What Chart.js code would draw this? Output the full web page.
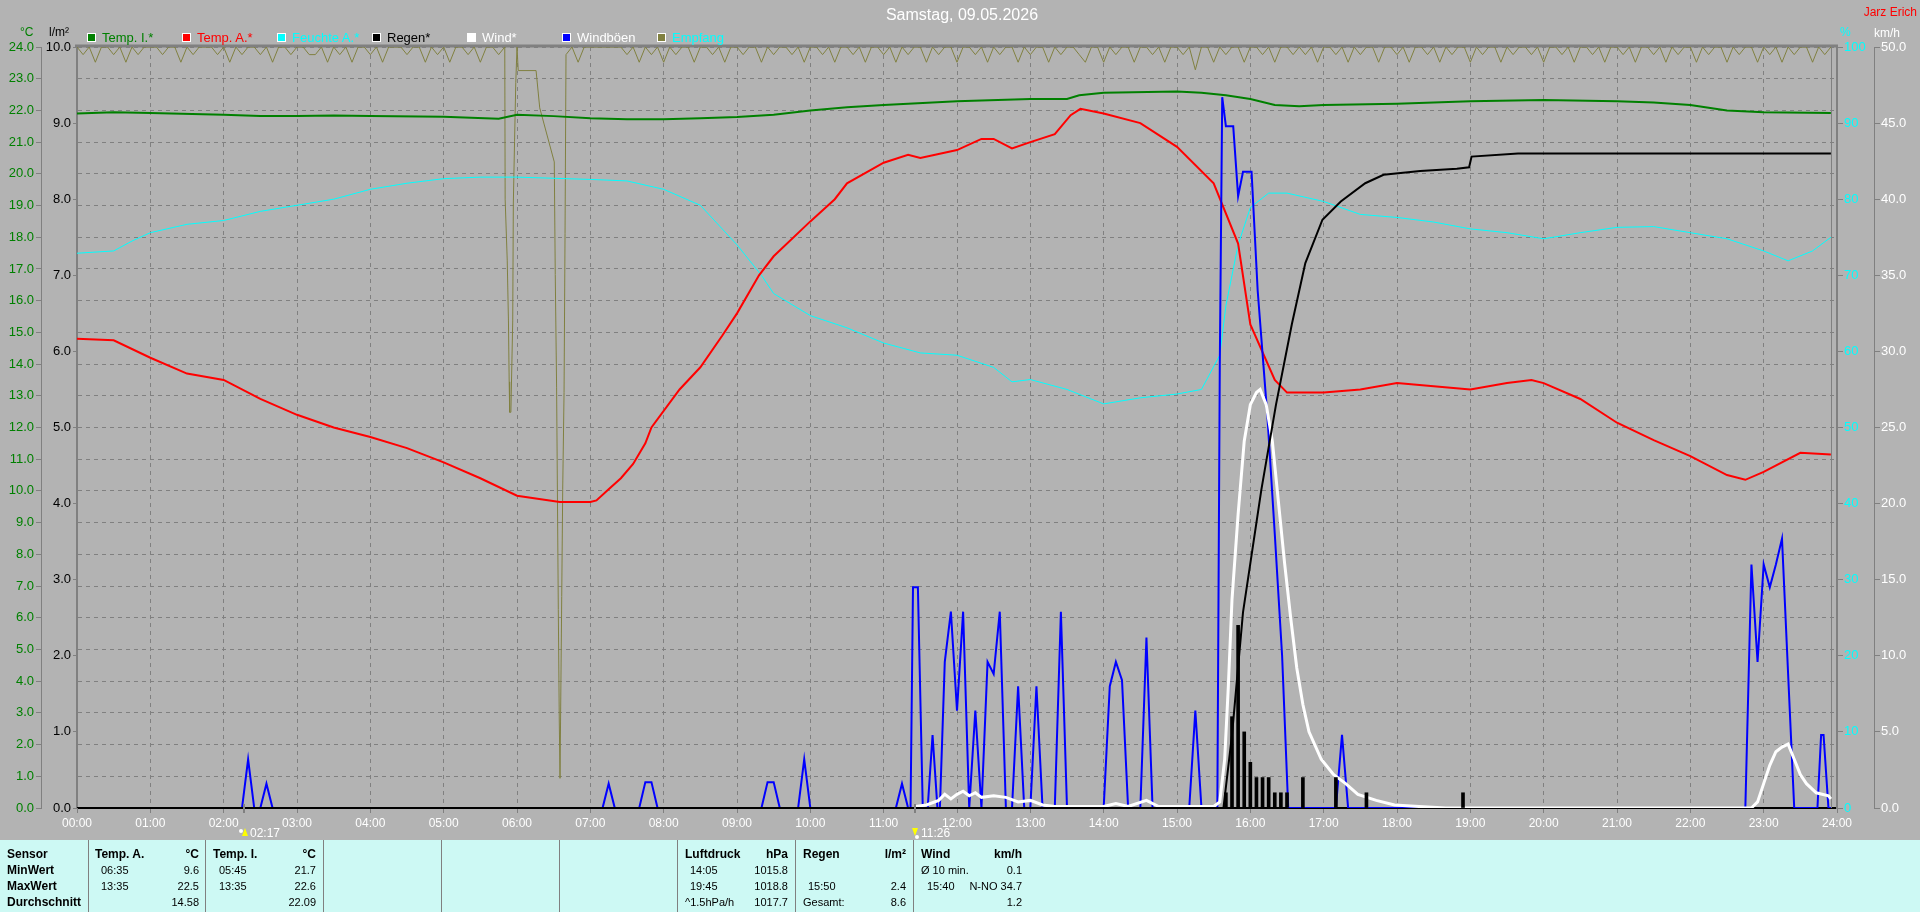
<!DOCTYPE html>
<html>
<head>
<meta charset="utf-8">
<script src="https://cdn.jsdelivr.net/npm/chart.js@4.4.1/dist/chart.umd.min.js"></script>
<style>
  body { margin: 0; width: 1920px; height: 912px; overflow: hidden; background: #b3b3b3; position: relative;
         font-family: 'Liberation Sans Narrow', 'Liberation Sans', Arial, sans-serif; }
  #wrap { position: absolute; left: 0; top: 0; width: 1920px; height: 840px; }
  .t { position: absolute; white-space: nowrap; line-height: 14px; font-size: 13px; }
  #table { position: absolute; left: 0; top: 840px; width: 1920px; height: 72px; background: #cdf9f4; }
  .sep { position: absolute; top: 0; width: 1px; height: 72px; background: #808080; }
  .c { position: absolute; white-space: nowrap; font-family: 'Liberation Sans', Arial, sans-serif; font-size: 11px; line-height: 12px; color: #000; }
  .b { font-weight: bold; font-size: 12px; }
  .r { text-align: right; }
</style>
</head>
<body>
<div id="wrap"><canvas id="chart" width="1920" height="840"></canvas></div>

<div class="t" style="left:0;width:1924px;text-align:center;top:6px;font-size:16px;line-height:18px;color:#fff">Samstag, 09.05.2026</div>
<div class="t" style="right:3px;top:5px;color:#f00;font-size:12px">Jarz Erich</div>
<div class="t" style="left:20px;top:25px;color:#008000;font-size:12px">°C</div>
<div class="t" style="left:49px;top:25px;color:#000;font-size:12px">l/m²</div>
<div class="t" style="left:1840px;top:25px;color:#0ff;font-size:12px">%</div>
<div class="t" style="left:1874px;top:26px;color:#fff;font-size:12px">km/h</div>
<div id="legend"></div>

<!-- markers under the time axis -->
<div style="position:absolute;left:243px;top:804px;width:2px;height:9px;background:#808080"></div>
<div style="position:absolute;left:914px;top:804px;width:2px;height:9px;background:#808080"></div>
<div style="position:absolute;left:239px;top:829px;width:4px;height:4px;border-radius:2px;background:#fff"></div>
<div style="position:absolute;left:242px;top:828px;width:0;height:0;border-left:3px solid transparent;border-right:3px solid transparent;border-bottom:8px solid #ff0"></div>
<div class="t" style="left:250px;top:826px;color:#fff;font-size:12px">02:17</div>
<div style="position:absolute;left:912px;top:828px;width:0;height:0;border-left:3px solid transparent;border-right:3px solid transparent;border-top:8px solid #ff0"></div>
<div style="position:absolute;left:915px;top:835px;width:4px;height:4px;border-radius:2px;background:#fff"></div>
<div class="t" style="left:921px;top:826px;color:#fff;font-size:12px">11:26</div>

<div id="table">
  <div class="sep" style="left:88px"></div><div class="sep" style="left:205px"></div>
  <div class="sep" style="left:323px"></div><div class="sep" style="left:441px"></div>
  <div class="sep" style="left:559px"></div><div class="sep" style="left:677px"></div>
  <div class="sep" style="left:795px"></div><div class="sep" style="left:913px"></div>

  <div class="c b" style="left:7px;top:8px">Sensor</div>
  <div class="c b" style="left:7px;top:24px">MinWert</div>
  <div class="c b" style="left:7px;top:40px">MaxWert</div>
  <div class="c b" style="left:7px;top:56px">Durchschnitt</div>

  <div class="c b" style="left:95px;top:8px">Temp. A.</div>
  <div class="c b r" style="left:0;width:199px;top:8px">°C</div>
  <div class="c" style="left:101px;top:24px">06:35</div><div class="c r" style="left:0;width:199px;top:24px">9.6</div>
  <div class="c" style="left:101px;top:40px">13:35</div><div class="c r" style="left:0;width:199px;top:40px">22.5</div>
  <div class="c r" style="left:0;width:199px;top:56px">14.58</div>

  <div class="c b" style="left:213px;top:8px">Temp. I.</div>
  <div class="c b r" style="left:0;width:316px;top:8px">°C</div>
  <div class="c" style="left:219px;top:24px">05:45</div><div class="c r" style="left:0;width:316px;top:24px">21.7</div>
  <div class="c" style="left:219px;top:40px">13:35</div><div class="c r" style="left:0;width:316px;top:40px">22.6</div>
  <div class="c r" style="left:0;width:316px;top:56px">22.09</div>

  <div class="c b" style="left:685px;top:8px">Luftdruck</div>
  <div class="c b r" style="left:0;width:788px;top:8px">hPa</div>
  <div class="c" style="left:690px;top:24px">14:05</div><div class="c r" style="left:0;width:788px;top:24px">1015.8</div>
  <div class="c" style="left:690px;top:40px">19:45</div><div class="c r" style="left:0;width:788px;top:40px">1018.8</div>
  <div class="c" style="left:685px;top:56px">^1.5hPa/h</div><div class="c r" style="left:0;width:788px;top:56px">1017.7</div>

  <div class="c b" style="left:803px;top:8px">Regen</div>
  <div class="c b r" style="left:0;width:906px;top:8px">l/m²</div>
  <div class="c" style="left:808px;top:40px">15:50</div><div class="c r" style="left:0;width:906px;top:40px">2.4</div>
  <div class="c" style="left:803px;top:56px">Gesamt:</div><div class="c r" style="left:0;width:906px;top:56px">8.6</div>

  <div class="c b" style="left:921px;top:8px">Wind</div>
  <div class="c b r" style="left:0;width:1022px;top:8px">km/h</div>
  <div class="c" style="left:921px;top:24px">Ø 10 min.</div><div class="c r" style="left:0;width:1022px;top:24px">0.1</div>
  <div class="c" style="left:927px;top:40px">15:40</div><div class="c r" style="left:0;width:1022px;top:40px">N-NO 34.7</div>
  <div class="c r" style="left:0;width:1022px;top:56px">1.2</div>
</div>

<script>
// ---- data ----
const legendNames = ["Temp. I.*", "Temp. A.*", "Feuchte A.*", "Regen*", "Wind*", "Windböen", "Empfang"];
const legendBoxColors = ["#008000", "#ff0000", "#00ffff", "#000000", "#ffffff", "#0000ff", "#808040"];
const legendTextColors = ["#008000", "#ff0000", "#00ffff", "#000000", "#ffffff", "#ffffff", "#00ffff"];

const tempITimes = ["00:00","00:30","01:00","02:00","02:30","03:00","03:30","04:00","05:00","05:45","06:00","06:30","07:00","07:30","08:00","08:30","09:00","09:30","10:00","10:30","11:00","12:00","13:00","13:30","13:40","14:00","15:00","15:20","15:40","16:00","16:20","16:40","17:00","18:00","19:00","20:00","21:00","21:30","22:00","22:30","23:00","23:55"];
const tempIValues = [21.9,21.94,21.92,21.86,21.82,21.82,21.84,21.82,21.8,21.74,21.86,21.82,21.75,21.72,21.72,21.75,21.79,21.86,22.0,22.1,22.17,22.29,22.36,22.36,22.48,22.56,22.6,22.56,22.48,22.36,22.17,22.13,22.17,22.21,22.29,22.33,22.29,22.25,22.17,22.0,21.94,21.92];

const tempATimes = ["00:00","00:30","01:00","01:30","02:00","02:30","03:00","03:30","04:00","04:30","05:00","05:30","06:00","06:35","07:00","07:05","07:15","07:25","07:35","07:45","07:50","08:13","08:30","08:48","09:00","09:18","09:30","10:00","10:20","10:30","11:00","11:20","11:30","12:00","12:20","12:30","12:45","13:00","13:20","13:33","13:41","14:00","14:30","15:00","15:30","15:50","16:00","16:20","16:30","17:00","17:30","18:00","18:30","19:00","19:30","19:50","20:00","20:30","21:00","21:30","22:00","22:30","22:45","23:00","23:30","23:55"];
const tempAValues = [14.8,14.75,14.2,13.7,13.5,12.9,12.4,12.0,11.7,11.35,10.9,10.4,9.85,9.65,9.65,9.7,10.05,10.4,10.85,11.5,12.0,13.2,13.9,14.9,15.6,16.8,17.4,18.5,19.2,19.7,20.35,20.6,20.5,20.75,21.1,21.1,20.8,21.0,21.25,21.85,22.05,21.9,21.6,20.85,19.7,17.8,15.25,13.5,13.1,13.1,13.2,13.4,13.3,13.2,13.4,13.5,13.4,12.9,12.15,11.6,11.1,10.5,10.35,10.6,11.2,11.15];

const humTimes = ["00:00","00:30","00:45","01:00","01:30","02:00","02:30","03:00","03:30","04:00","04:30","05:00","05:30","06:00","07:00","07:30","08:00","08:30","09:00","09:20","09:30","10:00","10:30","11:00","11:30","12:00","12:30","12:45","13:00","13:30","14:00","14:30","15:00","15:20","15:35","15:40","15:50","16:00","16:15","16:30","17:00","17:30","18:00","18:30","19:00","19:30","20:00","20:30","21:00","21:30","22:00","22:30","23:00","23:20","23:40","23:55"];
const humValues = [72.9,73.2,74.5,75.6,76.7,77.2,78.4,79.2,80,81.3,82.1,82.7,82.9,82.9,82.6,82.4,81.3,79.2,74,70,67.6,64.7,63.1,61.1,59.8,59.5,57.9,56,56.3,55,53.1,53.9,54.4,55,59.5,66,74,78.9,80.8,80.8,79.7,78,77.6,77,76.1,75.6,74.8,75.6,76.3,76.4,75.6,74.8,73.2,71.9,73.2,75];

const rainTimes = ["00:00","15:38","15:45","15:54","16:09","16:21","16:34","16:45","16:59","17:14","17:34","17:49","18:19","18:49","18:59","19:01","19:39","23:55"];
const rainValues = [0,0,0.96,2.57,4.18,5.3,6.36,7.16,7.73,7.97,8.21,8.32,8.37,8.4,8.42,8.56,8.6,8.6];

const rainBarTimes = ["15:40","15:45","15:50","15:55","16:00","16:05","16:10","16:15","16:20","16:25","16:30","16:43","17:10","17:35","18:54"];
const rainBarValues = [0.2,1.2,2.4,1.0,0.6,0.4,0.4,0.4,0.2,0.2,0.2,0.4,0.4,0.2,0.2];

const windTimes = ["11:26","11:35","11:45","11:50","11:55","12:00","12:05","12:10","12:15","12:20","12:30","12:40","12:50","13:00","13:10","13:20","13:40","14:00","14:10","14:20","14:35","14:45","15:00","15:30","15:35","15:39","15:42","15:45","15:50","15:55","16:00","16:05","16:08","16:13","16:18","16:23","16:28","16:33","16:38","16:43","16:48","16:58","17:08","17:18","17:28","17:43","17:58","18:18","18:40","22:50","22:55","23:00","23:05","23:10","23:15","23:20","23:25","23:30","23:35","23:43","23:53","23:55"];
const windValues = [0.1,0.2,0.5,0.9,0.6,0.9,1.1,0.8,1.0,0.7,0.8,0.7,0.4,0.5,0.2,0.1,0.1,0.1,0.3,0.1,0.5,0.1,0.1,0.1,0.4,3.2,8,13.7,19.3,24.1,26.5,27.3,27.5,26.5,24.1,20.1,16.1,12.5,9.2,6.8,5,3.2,2.2,1.6,0.9,0.5,0.2,0.1,0,0,0.4,1.6,2.8,3.7,4,4.2,3.2,2.2,1.6,1.0,0.8,0.6];

const gustTimes = [
  "00:00","02:15","02:20","02:25","02:30","02:35","02:40",
  "07:10","07:15","07:20","07:40","07:45","07:50","07:55",
  "09:20","09:25","09:30","09:35","09:50","09:55","10:00",
  "11:10","11:15","11:20","11:22","11:24","11:28","11:32","11:36","11:40","11:44","11:46",
  "11:50","11:55","12:00","12:05","12:10","12:15","12:20","12:25","12:30","12:35",
  "12:40","12:45","12:50","12:55","13:00","13:05","13:10","13:20","13:25","13:30",
  "14:00","14:05","14:10","14:15","14:20","14:30","14:35","14:40",
  "15:10","15:15","15:20","15:33","15:35","15:37","15:40","15:46","15:50","15:54","16:01",
  "16:06","16:14","16:20","16:26","16:31",
  "17:10","17:15","17:20",
  "22:45","22:50","22:55","23:00","23:05","23:10","23:15","23:20","23:25",
  "23:44","23:47","23:49","23:53","23:55"
];
const gustValues = [
  0,0,3.2,0,0,1.6,0,
  0,1.6,0,0,1.7,1.7,0,
  0,1.7,1.7,0,0,3.2,0,
  0,1.6,0,0,14.5,14.5,0,0,4.8,0,0,
  9.6,12.9,6.4,12.9,0,6.4,0,9.6,8.8,12.9,
  0,0,8,0,0,8,0,0,12.9,0,
  0,8,9.6,8.4,0,0,11.2,0,
  0,6.4,0,0,29,46.7,44.8,44.8,40.2,41.8,41.8,
  34,25.7,18,10,0,
  0,4.8,0,
  0,16,9.6,16,14.5,16,17.7,8.8,0,
  0,4.8,4.8,0,0
];

// reception (%), one value every 5 minutes from 00:00 to 23:55
const empfangValues = [
  100,99,100,98,100,100,99,100,98,100,99,100,
  100,100,99,100,100,98,100,99,100,100,100,99,
  100,98,100,99,100,100,99,100,98,100,100,99,
  100,100,99,99,100,98,100,99,100,98,100,100,
  99,100,98,100,100,100,99,100,100,98,100,99,
  100,98,100,100,99,100,98,100,100,99,100,100,
  100,100,100,100,100,100,100,100,99,100,98,100,
  100,100,100,100,100,100,99,100,98,100,99,100,
  98,100,99,100,100,98,100,100,99,100,98,100,
  100,99,100,100,98,100,99,100,100,99,100,98,
  100,100,99,100,98,100,100,99,100,98,100,100,
  99,100,98,100,99,100,100,98,100,99,100,100,
  98,100,100,99,100,98,100,99,100,100,98,100,
  99,100,100,98,100,99,100,100,99,98,100,100,
  98,100,99,100,100,98,100,100,99,100,98,100,
  100,99,100,97,100,100,98,100,99,100,100,98,
  100,100,99,100,98,100,100,99,100,99,100,98,
  100,100,99,100,98,100,99,100,100,98,100,100,
  99,100,98,100,100,99,100,98,100,99,100,100,
  98,100,99,100,100,98,100,99,100,100,99,100,
  98,100,100,99,100,98,100,100,99,100,98,100,
  100,99,100,98,100,100,99,100,98,100,99,100,
  100,98,100,99,100,100,98,100,99,100,100,98,
  100,99,100,98,100,99,100,100,98,100,99,100
];
// reception drop-outs between 05:50 and 06:40 (minutes of the day)
const empfangDropMinutes = [350,350.3,352,353,353.6,354,355,356.5,357,358,359,360,361,375.6,378.6,390.5,391.3,392.4,393.8,394.6,395.2,396.6,397.4,398.5,399.3,400.1];
const empfangDropValues = [100,80,72,64,56,52,52,64,79.5,87.6,95.3,100,96.9,96.9,92,84.9,70.1,55.3,26.1,11.3,3.9,27.8,41.9,54.6,75.5,99];

const lastTime = "23:55";

// ---- helpers ----
const toH = s => { const p = s.split(":").map(Number); return p[0] + p[1] / 60; };
const pts = (times, vals) => times.map((t, i) => ({ x: toH(t), y: vals[i] }));

const empfangPts = [];
empfangValues.forEach((v, i) => {
  const m = i * 5;
  if (m < 350 || m > 400) empfangPts.push({ x: m / 60, y: v });
});
empfangDropMinutes.forEach((m, i) => empfangPts.push({ x: m / 60, y: empfangDropValues[i] }));
empfangPts.sort((a, b) => a.x - b.x);

// legend
const legend = document.getElementById("legend");
legendNames.forEach((name, i) => {
  const left = 87 + i * 95;
  const box = document.createElement("div");
  box.style.cssText = `position:absolute;left:${left}px;top:33px;width:7px;height:7px;border:1px solid #fff;background:${legendBoxColors[i]}`;
  legend.appendChild(box);
  const txt = document.createElement("div");
  txt.className = "t";
  txt.style.cssText = `left:${left + 15}px;top:31px;color:${legendTextColors[i]}`;
  txt.textContent = name;
  legend.appendChild(txt);
});

const fontFam = "'Liberation Sans Narrow', 'Liberation Sans', Arial, sans-serif";
Chart.defaults.font.family = fontFam;
Chart.defaults.font.size = 13;

const frame = {
  id: "frame",
  beforeDatasetsDraw(chart) {
    const { ctx, chartArea: a, scales } = chart;
    ctx.save();
    ctx.strokeStyle = "#808080";
    ctx.lineWidth = 3;
    ctx.beginPath();
    ctx.moveTo(a.left - 2, a.top - 1);
    ctx.lineTo(a.right + 1, a.top - 1);
    ctx.stroke();
    const xe = Math.round(scales.x.getPixelForValue(toH(lastTime))) + 0.5;
    ctx.lineWidth = 1;
    ctx.beginPath();
    ctx.moveTo(xe, a.top);
    ctx.lineTo(xe, a.bottom);
    ctx.stroke();
    ctx.restore();
  }
};

const line = (label, data, axis, color, width, order) => ({
  type: "line", label, data, yAxisID: axis, borderColor: color, backgroundColor: color,
  borderWidth: width, pointRadius: 0, tension: 0, order
});

new Chart(document.getElementById("chart"), {
  type: "line",
  data: {
    datasets: [
      line("Regen*", pts(rainTimes, rainValues), "yRain", "#000000", 2, 0),
      { type: "bar", label: "Regen", data: pts(rainBarTimes, rainBarValues), yAxisID: "yRain",
        backgroundColor: "#000000", barThickness: 3, order: 1 },
      line("Wind*", pts(windTimes, windValues), "yWind", "#ffffff", 3, 2),
      line("Windböen", pts(gustTimes, gustValues), "yWind", "#0000ff", 2, 3),
      line("Temp. A.*", pts(tempATimes, tempAValues), "yTemp", "#ff0000", 2, 4),
      line("Temp. I.*", pts(tempITimes, tempIValues), "yTemp", "#008000", 2, 5),
      line("Feuchte A.*", pts(humTimes, humValues), "yHum", "#00ffff", 1, 6),
      line("Empfang", empfangPts, "yHum", "#808040", 1, 7)
    ]
  },
  options: {
    responsive: false,
    animation: false,
    events: [],
    layout: { padding: { top: 47, right: 6, left: 0, bottom: 0 } },
    plugins: { legend: { display: false }, title: { display: false }, tooltip: { enabled: false } },
    scales: {
      x: {
        type: "linear", min: 0, max: 24, offset: false,
        afterFit: s => { s.height = 32; },
        ticks: { stepSize: 1, autoSkip: false, maxRotation: 0, color: "#ffffff", padding: 3,
                 font: { size: 12 }, callback: v => String(v).padStart(2, "0") + ":00" },
        grid: { offset: false, color: "#808080", tickLength: 5, tickBorderDash: [] },
        border: { color: "#000000", width: 2, dash: [4, 4] }
      },
      yTemp: {
        position: "left", weight: 1, min: 0, max: 24,
        afterFit: s => { s.width = 41; },
        ticks: { stepSize: 1, autoSkip: false, color: "#008000", padding: 2, callback: v => v.toFixed(1) },
        grid: { color: "#808080", tickLength: 5, tickBorderDash: [] },
        border: { color: "#808080", width: 1, dash: [4, 4] }
      },
      yRain: {
        position: "left", weight: 0, min: 0, max: 10,
        afterFit: s => { s.width = 36; },
        ticks: { stepSize: 1, autoSkip: false, color: "#000000", padding: 2, callback: v => v.toFixed(1) },
        grid: { drawOnChartArea: false, color: "#808080", tickLength: 4 },
        border: { color: "#808080", width: 2 }
      },
      yHum: {
        position: "right", weight: 0, min: 0, max: 100,
        afterFit: s => { s.width = 37; },
        ticks: { stepSize: 10, autoSkip: false, color: "#00ffff", padding: 1 },
        grid: { drawOnChartArea: false, color: "#808080", tickLength: 6 },
        border: { color: "#808080", width: 2 }
      },
      yWind: {
        position: "right", weight: 1, min: 0, max: 50,
        afterFit: s => { s.width = 40; },
        ticks: { stepSize: 5, autoSkip: false, color: "#ffffff", padding: 1, callback: v => v.toFixed(1) },
        grid: { drawOnChartArea: false, color: "#808080", tickLength: 6 },
        border: { color: "#808080", width: 1 }
      }
    }
  },
  plugins: [frame]
});
</script>
</body>
</html>
